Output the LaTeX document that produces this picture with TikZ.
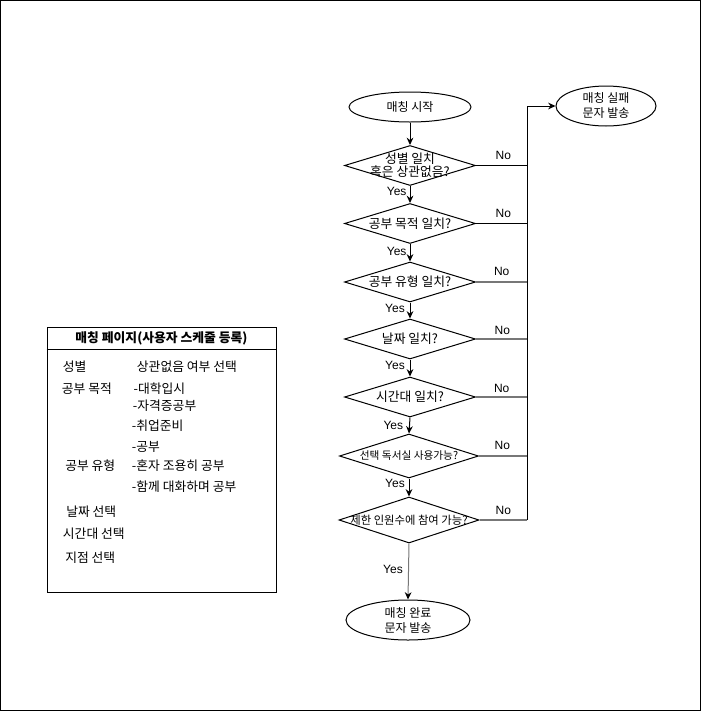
\documentclass[tikz,border=0pt]{standalone}
\usepackage{fontspec}
\setmainfont{Noto Sans CJK KR}
\newfontfamily\latinf{Liberation Sans}
\usetikzlibrary{shapes.geometric,arrows.meta}
\definecolor{lgray}{HTML}{777777}
\begin{document}
\begin{tikzpicture}[x=0.75pt,y=-0.75pt,
  every node/.style={font=\fontsize{9}{11.25}\selectfont},
  term/.style={ellipse,draw,line width=0.75pt,inner sep=0pt,align=center},
  decision/.style={diamond,draw,line width=0.75pt,inner sep=0pt,minimum width=131*0.75pt,minimum height=40*0.75pt},
  dtext/.style={align=center,inner sep=0pt,font=\fontsize{9.6}{10}\selectfont},
  flow/.style={line width=0.75pt,-{Stealth[length=5.5pt,width=5pt]}},
  flowgray/.style={line width=0.75pt,draw=lgray,-{Stealth[length=5.5pt,width=5pt,color=black]}},
  noline/.style={line width=0.75pt},
  nogray/.style={line width=0.9pt,draw=lgray},
  lbl/.style={inner sep=0pt,font=\latinf\fontsize{9}{10}\selectfont},
  item/.style={anchor=west,inner sep=0pt,font=\fontsize{9.6}{10}\selectfont},
]
\useasboundingbox (0,0) rectangle (701,711);
\draw[line width=0.75pt] (0.5,0.5) rectangle (700.5,710.5);

% terminals
\node[term,minimum width=122*0.75pt,minimum height=30*0.75pt] (start) at (410,107) {매칭 시작};
\node[term,minimum width=100*0.75pt,minimum height=40*0.75pt] (fail) at (606,106) {매칭 실패\\문자 발송};
\node[term,minimum width=124*0.75pt,minimum height=40*0.75pt] (done) at (408,620) {매칭 완료\\문자 발송};

% decisions
\node[decision] (d1) at (410,165.5) {};
\node[dtext,font=\fontsize{9.6}{10}\selectfont] (t1) at (d1) {성별 일치\\혹은 상관없음?};
\node[decision] (d2) at (410,223.5) {};
\node[dtext] (t2) at (d2) {공부 목적 일치?};
\node[decision] (d3) at (410,282) {};
\node[dtext] (t3) at (d3) {공부 유형 일치?};
\node[decision] (d4) at (410,339) {};
\node[dtext] (t4) at (d4) {날짜 일치?};
\node[decision] (d5) at (410,397) {};
\node[dtext] (t5) at (d5) {시간대 일치?};
\node[decision,minimum width=139*0.75pt,minimum height=44*0.75pt] (d6) at (409,456) {};
\node[dtext,font=\fontsize{8}{10}\selectfont] (t6) at (d6) {선택 독서실 사용가능?};
\node[decision,minimum width=140*0.75pt,minimum height=46*0.75pt] (d7) at (409,520) {};
\node[dtext,font=\fontsize{8.5}{10}\selectfont] (t7) at (d7) {제한 인원수에 참여 가능?};

% yes flow
\draw[flow] (start) -- (d1);
\draw[flow] (d1.south) -- (d2.north);
\draw[flow] (d2.south) -- (d3.north);
\draw[flow] (d3.south) -- (d4.north);
\draw[flow] (d4.south) -- (d5.north);
\draw[flow] (d5.south) -- (d6.north);
\draw[flow] (d6.south) -- (d7.north);
\draw[flowgray] (d7.south) -- (done.north);

\node[lbl] (y1) at (396.7,191.7) {Yes};
\node[lbl] (y2) at (396.7,251.7) {Yes};
\node[lbl] (y3) at (395,308.3) {Yes};
\node[lbl] (y4) at (395,365.7) {Yes};
\node[lbl] (y5) at (393.3,425) {Yes};
\node[lbl] (y6) at (395,483.3) {Yes};
\node[lbl] (y7) at (393,569) {Yes};

% no flow
\coordinate (bus) at (527,0);
\draw[noline] (d1.east) -- (d1.east -| bus);
\draw[noline] (d2.east) -- (d2.east -| bus);
\draw[nogray] (d3.east) -- (d3.east -| bus);
\draw[nogray] (d4.east) -- (d4.east -| bus);
\draw[nogray] (d5.east) -- (d5.east -| bus);
\draw[nogray] (d6.east) -- (d6.east -| bus);
\draw[nogray] (d7.east) -- (d7.east -| bus);
\draw[flow] (d7.east -| bus) |- (fail.west);

\node[lbl] (n1) at (503.3,155) {No};
\node[lbl] (n2) at (503.3,213.3) {No};
\node[lbl] (n3) at (501.7,271.7) {No};
\node[lbl] (n4) at (502.3,330.7) {No};
\node[lbl] (n5) at (501.7,388.3) {No};
\node[lbl] (n6) at (502.3,445.7) {No};
\node[lbl] (n7) at (503.3,510) {No};

% left panel
\node[draw,line width=0.75pt,minimum width=229*0.75pt,minimum height=265*0.75pt,inner sep=0pt] (panel) at (161.5,459.5) {};
\coordinate (hdr) at (0,349);
\draw[line width=0.75pt] (panel.west |- hdr) -- (panel.east |- hdr);
\node[inner sep=0pt,font=\bfseries\fontsize{9.6}{10}\selectfont] (title) at (161.5,338) {매칭 페이지(사용자 스케줄 등록)};

\node[item] (p1) at (62.7,366.7) {성별};
\node[item] (p1b) at (136.7,366.7) {상관없음 여부 선택};
\node[item] (p2) at (61.7,388.3) {공부 목적};
\node[item] (p2a) at (133.3,388.3) {-대학입시};
\node[item] (p2b) at (132.7,406) {-자격증공부};
\node[item] (p2c) at (131.7,426) {-취업준비};
\node[item] (p2d) at (131.7,446.7) {-공부};
\node[item] (p3) at (65,465.7) {공부 유형};
\node[item] (p3a) at (131.7,465.7) {-혼자 조용히 공부};
\node[item] (p3b) at (131.7,486.7) {-함께 대화하며 공부};
\node[item] (p4) at (66,511.7) {날짜 선택};
\node[item] (p5) at (62.7,533.3) {시간대 선택};
\node[item] (p6) at (65,557.3) {지점 선택};
\end{tikzpicture}
\end{document}
